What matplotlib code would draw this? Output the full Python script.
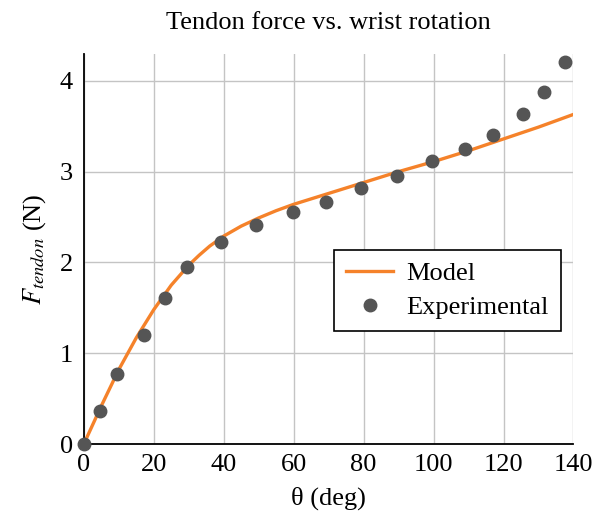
import matplotlib.pyplot as plt

# donnees
theta_model = [0, 5, 10, 15, 20, 25, 30, 33, 36, 40, 45, 50, 55, 60, 70, 80, 90, 100, 110, 120, 130, 140]
F_model = [0, 0.42, 0.82, 1.17, 1.48, 1.75, 1.97, 2.08, 2.18, 2.29, 2.40, 2.49, 2.57, 2.64, 2.76, 2.88, 3.0, 3.11, 3.23, 3.36, 3.49, 3.63]

theta_exp = [0, 4.7, 9.5, 17.2, 23.1, 29.4, 39.1, 49.1, 59.7, 69.2, 79.3, 89.5, 99.6, 109.0, 117.0, 125.6, 131.6, 137.7]
F_exp = [0, 0.36, 0.77, 1.20, 1.61, 1.95, 2.22, 2.41, 2.55, 2.67, 2.82, 2.95, 3.12, 3.25, 3.40, 3.63, 3.88, 4.21]

plt.rcParams['font.family'] = ['Liberation Serif', 'DejaVu Serif']
plt.rcParams['mathtext.fontset'] = 'stix'

fig = plt.figure(figsize=(6.03, 5.2), dpi=100)
ax = fig.add_axes([0.139, 0.146, 0.812, 0.751])

ax.plot(theta_model, F_model, color='#f5822a', lw=2.4, label='Model', zorder=3)
ax.plot(theta_exp, F_exp, 'o', color='#555555', ms=9, label='Experimental', zorder=4, clip_on=False)

ax.set_xlim(0, 140)
ax.set_ylim(0, 4.3)
ax.set_xticks(range(0, 141, 20))
ax.set_yticks([0, 1, 2, 3, 4])
ax.grid(True, color='#c4c4c4', lw=1)
ax.set_axisbelow(True)
for s in ['top', 'right']:
    ax.spines[s].set_visible(False)
ax.spines['left'].set_linewidth(1.3)
ax.spines['bottom'].set_linewidth(1.3)
ax.tick_params(axis='x', length=0, pad=7, labelsize=19)
ax.tick_params(axis='y', length=0, pad=8, labelsize=19)

ax.set_xlabel('θ (deg)', fontsize=19, labelpad=8)
ax.set_ylabel(r'$F_{tendon}$ (N)', fontsize=19, labelpad=8)
ax.set_title('Tendon force vs. wrist rotation', fontsize=19, pad=18)

leg = ax.legend(loc='upper left', bbox_to_anchor=(0.511, 0.497), borderaxespad=0, fontsize=19,
                frameon=True, fancybox=False, edgecolor='black', framealpha=1, handlelength=1.8,
                borderpad=0.45, labelspacing=0.4, handletextpad=0.5)
leg.get_frame().set_linewidth(1.2)

fig.savefig('out.png', dpi=100)
